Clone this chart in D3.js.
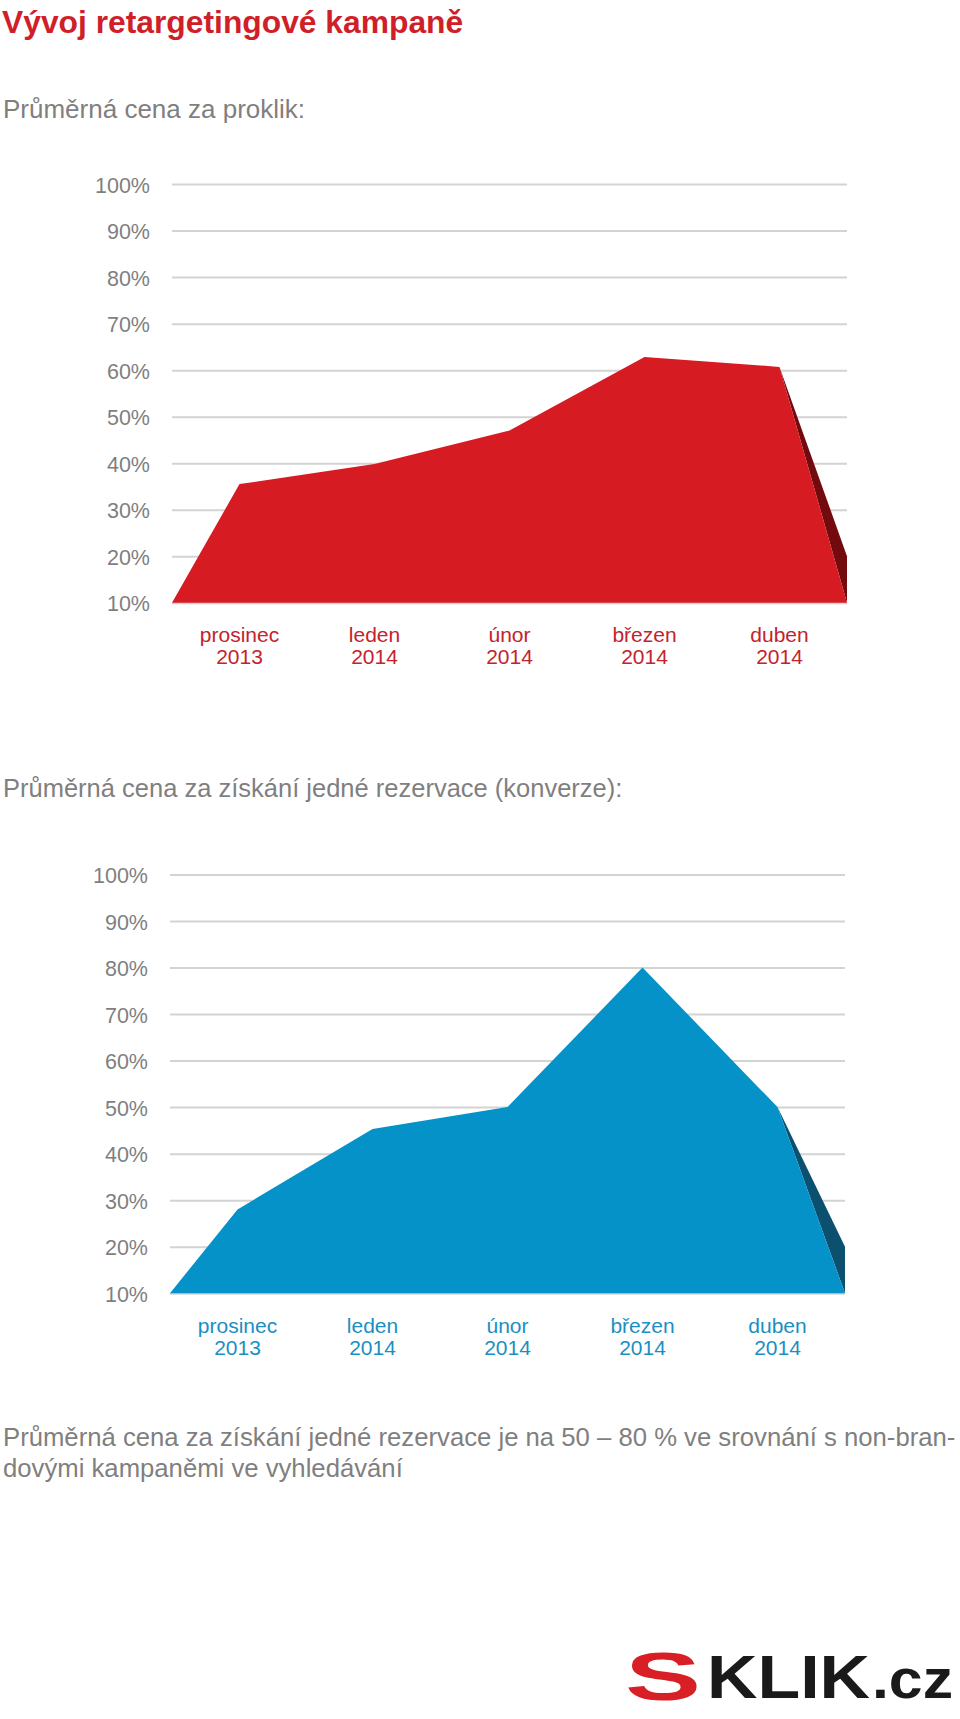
<!DOCTYPE html>
<html><head><meta charset="utf-8">
<script src="https://cdn.jsdelivr.net/npm/d3@7/dist/d3.min.js"></script>
<style>
body{margin:0;background:#fff}
svg{display:block}
text{font-family:"Liberation Sans",Arial,Helvetica,sans-serif}
</style>
</head><body>
<script>
// ---- data ----
const categories = ["prosinec", "leden", "únor", "březen", "duben"];
const years = ["2013", "2014", "2014", "2014", "2014"];
const cpcValues = [35.5, 39.8, 47, 62.8, 60.7];   // Průměrná cena za proklik (%)
const cpaValues = [28, 45.3, 50, 80, 50];         // Průměrná cena za konverzi (%)
const tickValues = [10, 20, 30, 40, 50, 60, 70, 80, 90, 100];
const sideEndValue = 20;                          // bottom of the shaded 3D side at right edge
const titleText = "Vývoj retargetingové kampaně";
const subtitle1 = "Průměrná cena za proklik:";
const subtitle2 = "Průměrná cena za získání jedné rezervace (konverze):";
const footnoteLines = ["Průměrná cena za získání jedné rezervace je na 50 – 80 % ve srovnání s non-bran-",
                       "dovými kampaněmi ve vyhledávání"];

const W = 960, H = 1719;
const svg = d3.select("body").append("svg").attr("width", W).attr("height", H);
svg.append("rect").attr("width", W).attr("height", H).attr("fill", "#fff");

const gray = "#7f7f7f";

svg.append("text").attr("x", 2).attr("y", 33)
  .attr("font-size", 31.8).attr("font-weight", "bold").attr("fill", "#d01f29")
  .text(titleText);

svg.append("text").attr("x", 3).attr("y", 118)
  .attr("font-size", 26).attr("fill", gray).text(subtitle1);

svg.append("text").attr("x", 3).attr("y", 797)
  .attr("font-size", 25.5).attr("fill", gray).text(subtitle2);

footnoteLines.forEach((t, i) => {
  svg.append("text").attr("x", 3).attr("y", 1446 + i * 31)
    .attr("font-size", 25.7).attr("fill", gray).text(t);
});

function drawChart(cfg) {
  const x = d3.scalePoint().domain(categories).range(cfg.xRange).padding(0.5);
  const y = d3.scaleLinear().domain([10, 100]).range(cfg.yRange);
  const g = svg.append("g");

  // gridlines + tick labels
  const axis = d3.axisLeft(y).tickValues(tickValues)
    .tickSize(-(cfg.xRange[1] - cfg.xRange[0])).tickFormat(d => d + "%").tickPadding(0);
  const ax = g.append("g").attr("transform", `translate(${cfg.xRange[0]},0)`).call(axis);
  ax.select(".domain").remove();
  ax.selectAll(".tick line").attr("stroke", "#d3d3d3").attr("stroke-width", 2);
  ax.selectAll(".tick text")
    .attr("x", cfg.labelX - cfg.xRange[0]).attr("dy", 0).attr("y", 8)
    .attr("fill", gray).attr("font-size", 21.5)
    .attr("font-family", "Liberation Sans, Arial, sans-serif");

  const pts = [[cfg.xRange[0], y(10)]]
    .concat(cfg.values.map((v, i) => [x(categories[i]), y(v)]))
    .concat([[cfg.xRange[1], y(10)]]);

  const last = cfg.values.length - 1;
  const side = [[x(categories[last]), y(cfg.values[last])],
                [cfg.xRange[1], y(sideEndValue)],
                [cfg.xRange[1], y(10)]];
  const line = d3.line();
  g.append("path").attr("d", line(side) + "Z").attr("fill", cfg.dark);
  g.append("path").attr("d", line(pts) + "Z").attr("fill", cfg.color);

  // category labels
  const lab = g.append("g").selectAll("text").data(categories).join("text")
    .attr("text-anchor", "middle").attr("font-size", 21).attr("fill", cfg.labelColor)
    .attr("x", d => x(d));
  lab.append("tspan").attr("x", d => x(d)).attr("y", y(10) + 39.5).text(d => d);
  lab.append("tspan").attr("x", d => x(d)).attr("y", y(10) + 61.5).text((d, i) => years[i]);
}

drawChart({xRange: [172, 847], yRange: [602.7, 184.1], labelX: 150,
  values: cpcValues, color: "#d71b22", dark: "#720a0e", labelColor: "#c4232c"});
drawChart({xRange: [170, 845], yRange: [1293.2, 874.5], labelX: 148,
  values: cpaValues, color: "#0592c9", dark: "#0b506e", labelColor: "#1b8fc2"});

// logo
const logo = svg.append("g").attr("font-weight", "bold");
logo.append("text").attr("x", 625).attr("y", 1700).attr("font-size", 68)
  .attr("fill", "#d91f26")
  .attr("textLength", 76).attr("lengthAdjust", "spacingAndGlyphs").text("S");
logo.append("text").attr("x", 707).attr("y", 1698).attr("font-size", 62)
  .attr("fill", "#1a1a1a")
  .attr("textLength", 163).attr("lengthAdjust", "spacingAndGlyphs").text("KLIK");
logo.append("text").attr("x", 872).attr("y", 1698).attr("font-size", 56)
  .attr("fill", "#1a1a1a")
  .attr("textLength", 81).attr("lengthAdjust", "spacingAndGlyphs").text(".cz");
</script>
</body></html>
